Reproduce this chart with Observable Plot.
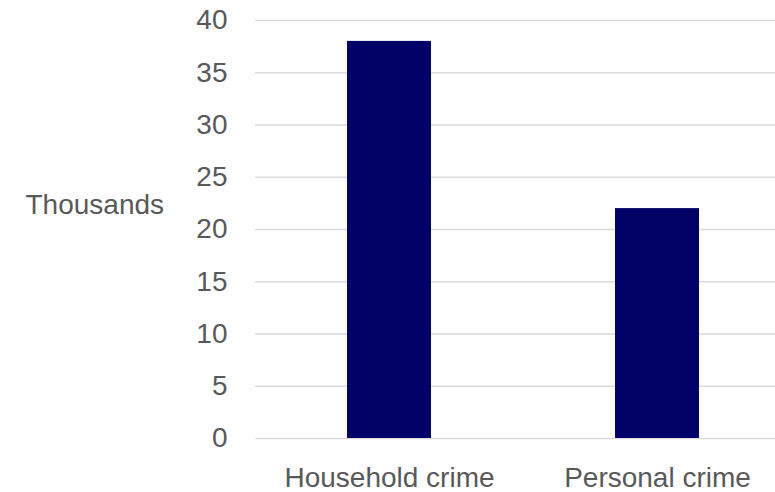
<!DOCTYPE html>
<html>
<head>
<meta charset="utf-8">
<script src="https://cdn.jsdelivr.net/npm/d3@7"></script>
<script src="https://cdn.jsdelivr.net/npm/@observablehq/plot@0.6"></script>
<style>
  html, body { margin: 0; padding: 0; background: #fff; }
  #chart svg { display: block; }
</style>
</head>
<body>
<div id="chart"></div>
<script>
const categories = ["Household crime", "Personal crime"];
const values = [38, 22];
const yTicks = [0, 5, 10, 15, 20, 25, 30, 35, 40];
const yLabel = "Thousands";

const data = categories.map((c, i) => ({category: c, value: values[i]}));

const chart = Plot.plot({
  width: 775,
  height: 492,
  marginLeft: 255,
  marginRight: 0,
  marginTop: 20,
  marginBottom: 54,
  style: {fontFamily: "'Liberation Sans', Arial, sans-serif", fontSize: "28px", color: "#595959", background: "#fff"},
  x: {domain: categories, range: [255, 791], paddingInner: 0.6866, paddingOuter: 0.3433, align: 0.5},
  y: {domain: [0, 40], range: [438, 20]},
  marks: [
    Plot.ruleY(yTicks, {stroke: "#d9d9d9", strokeWidth: 1.5}),
    Plot.barY(data, {x: "category", y: "value", fill: "#000066"}),
    Plot.axisY(yTicks, {tickSize: 0, tickPadding: 28, label: null, fontSize: 28, fill: "#595959"}),
    Plot.axisX({tickSize: 0, tickPadding: 29, label: null, fontSize: 28, fill: "#595959"}),
    Plot.text([yLabel], {frameAnchor: "left", dx: -230, dy: -24, textAnchor: "start", fontSize: 28, fill: "#595959"})
  ]
});
document.getElementById("chart").appendChild(chart);
</script>
</body>
</html>
